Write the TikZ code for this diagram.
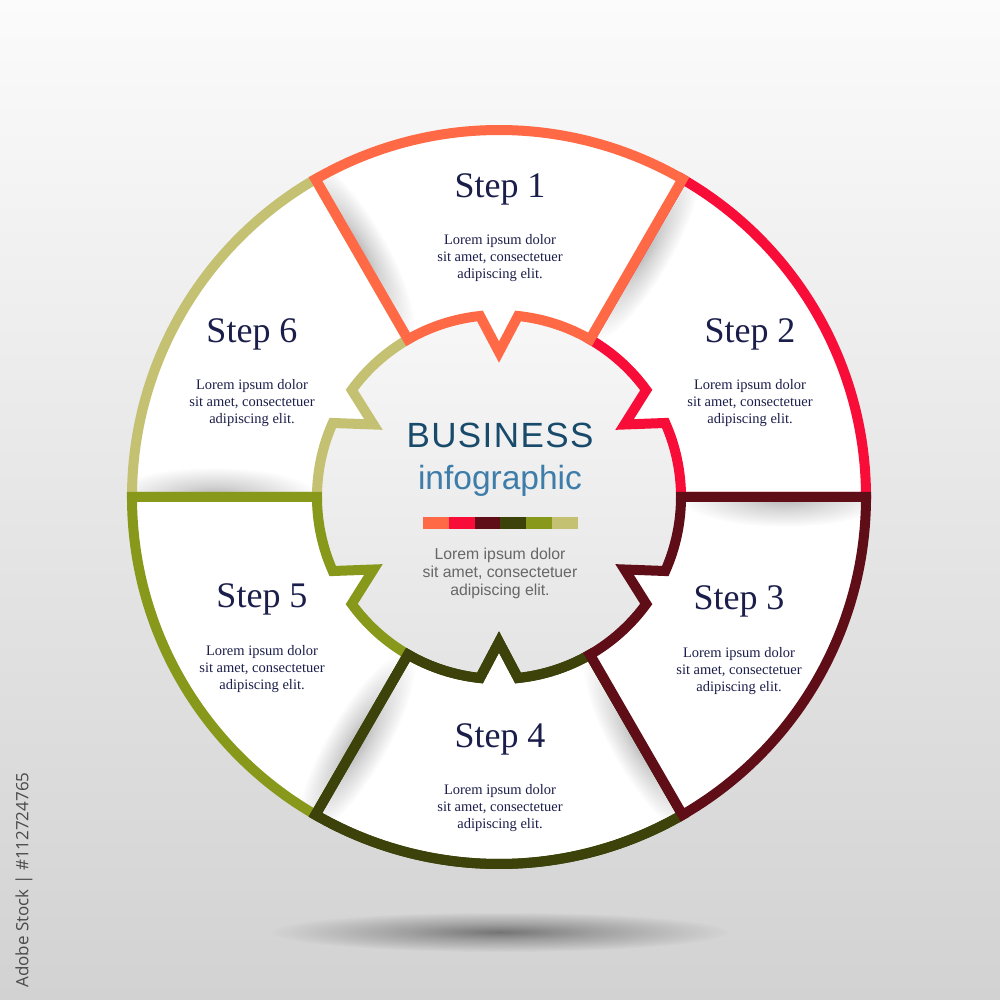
\documentclass[tikz,border=0pt]{standalone}
\usepackage{fontspec}
\setmainfont{Liberation Serif}
\newfontfamily\sansf{Liberation Sans}
\newfontfamily\wmfont{Open Sans}
\usetikzlibrary{fadings}
\definecolor{cA}{HTML}{FF6946}
\definecolor{cB}{HTML}{F80D38}
\definecolor{cC}{HTML}{5F0D16}
\definecolor{cD}{HTML}{3C420A}
\definecolor{cE}{HTML}{88981A}
\definecolor{cF}{HTML}{C4C172}
\definecolor{navy}{HTML}{1B1E4A}
\definecolor{bizblue}{HTML}{174A6B}
\definecolor{infoblue}{HTML}{3E7DAA}
\definecolor{lgray}{HTML}{676767}
\definecolor{wmgray}{HTML}{4A4A4A}
\definecolor{bgtop}{HTML}{FBFBFB}
\definecolor{bgbot}{HTML}{D2D2D2}
\definecolor{disktop}{HTML}{F7F7F7}
\definecolor{diskbot}{HTML}{E4E4E4}
\pgfdeclareradialshading{softshade}{\pgfpointorigin}{color(0bp)=(pgftransparent!0); color(10bp)=(pgftransparent!45); color(25bp)=(pgftransparent!100); color(50bp)=(pgftransparent!100)}
\pgfdeclarefading{soft}{\pgfuseshading{softshade}}
\def\Ro{367}\def\Ri{182}\def\Ra{145}\def\nh{6}
\newcommand{\segpath}[2]{(#1:\Ro) arc[start angle=#1, end angle=#2, radius=\Ro] -- (#2:\Ri)
  arc[start angle=#2, end angle={(#1+#2)/2+\nh}, radius=\Ri] -- ({(#1+#2)/2}:\Ra)
  -- ({(#1+#2)/2-\nh}:\Ri) arc[start angle={(#1+#2)/2-\nh}, end angle=#1, radius=\Ri] -- cycle}
\newcommand{\edgeshadow}[1]{%
  \begin{scope}[transform canvas={rotate=#1}]
    \fill[black, opacity=0.3, path fading=soft] (285,0) ellipse[x radius=105, y radius=30];
  \end{scope}}
\newcommand{\segment}[3]{%
  \fill[white] \segpath{#1}{#2};
  \begin{scope}
    \clip \segpath{#1}{#2};
    \edgeshadow{#2}
  \end{scope}
  \draw[segline, draw=#3] \segpath{#1}{#2};}
\begin{document}
\begin{tikzpicture}[x=1pt, y=1pt,
  segline/.style={line width=10pt, line join=miter, miter limit=10},
  steptitle/.style={font=\fontsize{36}{36}\selectfont, text=navy, anchor=base, inner sep=0pt},
  steptext/.style={font=\fontsize{14.5}{17}\selectfont, text=navy, anchor=base, inner sep=0pt},
  centertext/.style={font=\sansf\fontsize{15.8}{18}\selectfont, text=lgray, anchor=base, inner sep=0pt}]
% background
\shade[top color=bgtop, bottom color=bgbot] (-499,-503) rectangle (501,497);
\useasboundingbox (-499,-503) rectangle (501,497);
% ground shadow
\fill[black, opacity=0.45, path fading=soft] (1,-435) ellipse[x radius=230, y radius=20];
% inner disk
\shade[top color=disktop, bottom color=diskbot] (0,0) circle[radius=\Ri];
% segments (drawing order decides which colour owns a shared edge)
\segment{120}{180}{cF}
\segment{180}{240}{cE}
\segment{-120}{-60}{cD}
\begin{scope}
  \clip \segpath{-120}{-60};
  \edgeshadow{-120}
\end{scope}
\draw[segline, draw=cD] \segpath{-120}{-60};
\segment{0}{60}{cB}
\segment{-60}{0}{cC}
\segment{60}{120}{cA}
% step texts
\foreach \n/\x/\y in {1/1/299, 2/251/154, 3/240/-113, 4/1/-250, 5/-237/-111, 6/-247/154} {
  \node[steptitle] (t\n) at (\x,\y) {Step \n};
  \node[steptext] (la\n) at (\x,\y-47) {Lorem ipsum dolor};
  \node[steptext] (lb\n) at (\x,\y-64) {sit amet, consectetuer};
  \node[steptext] (lc\n) at (\x,\y-81) {adipiscing elit.};
}
% centre
\node[anchor=base, inner sep=0pt, text=bizblue, font=\sansf\fontsize{35}{35}\selectfont\addfontfeatures{LetterSpace=4}] (biz) at (1,49) {BUSINESS};
\node[anchor=base, inner sep=0pt, text=infoblue, font=\sansf\fontsize{33.5}{34}\selectfont] (info) at (1,7) {infographic};
\foreach \c [count=\i from 0] in {cA,cB,cC,cD,cE,cF} {
  \fill[\c] (-76+\i*25.83,-20) rectangle (-76+\i*25.83+25.9,-32);
}
\node[centertext] (ca) at (1,-63) {Lorem ipsum dolor};
\node[centertext] (cb) at (1,-81) {sit amet, consectetuer};
\node[centertext] (cc) at (1,-99) {adipiscing elit.};
% vertical credit line
\node[rotate=90, inner sep=0pt, text=wmgray, font=\wmfont\fontsize{17}{17}\selectfont] (wm) at (-475,-383) {Adobe Stock | \#112724765};
\end{tikzpicture}
\end{document}
